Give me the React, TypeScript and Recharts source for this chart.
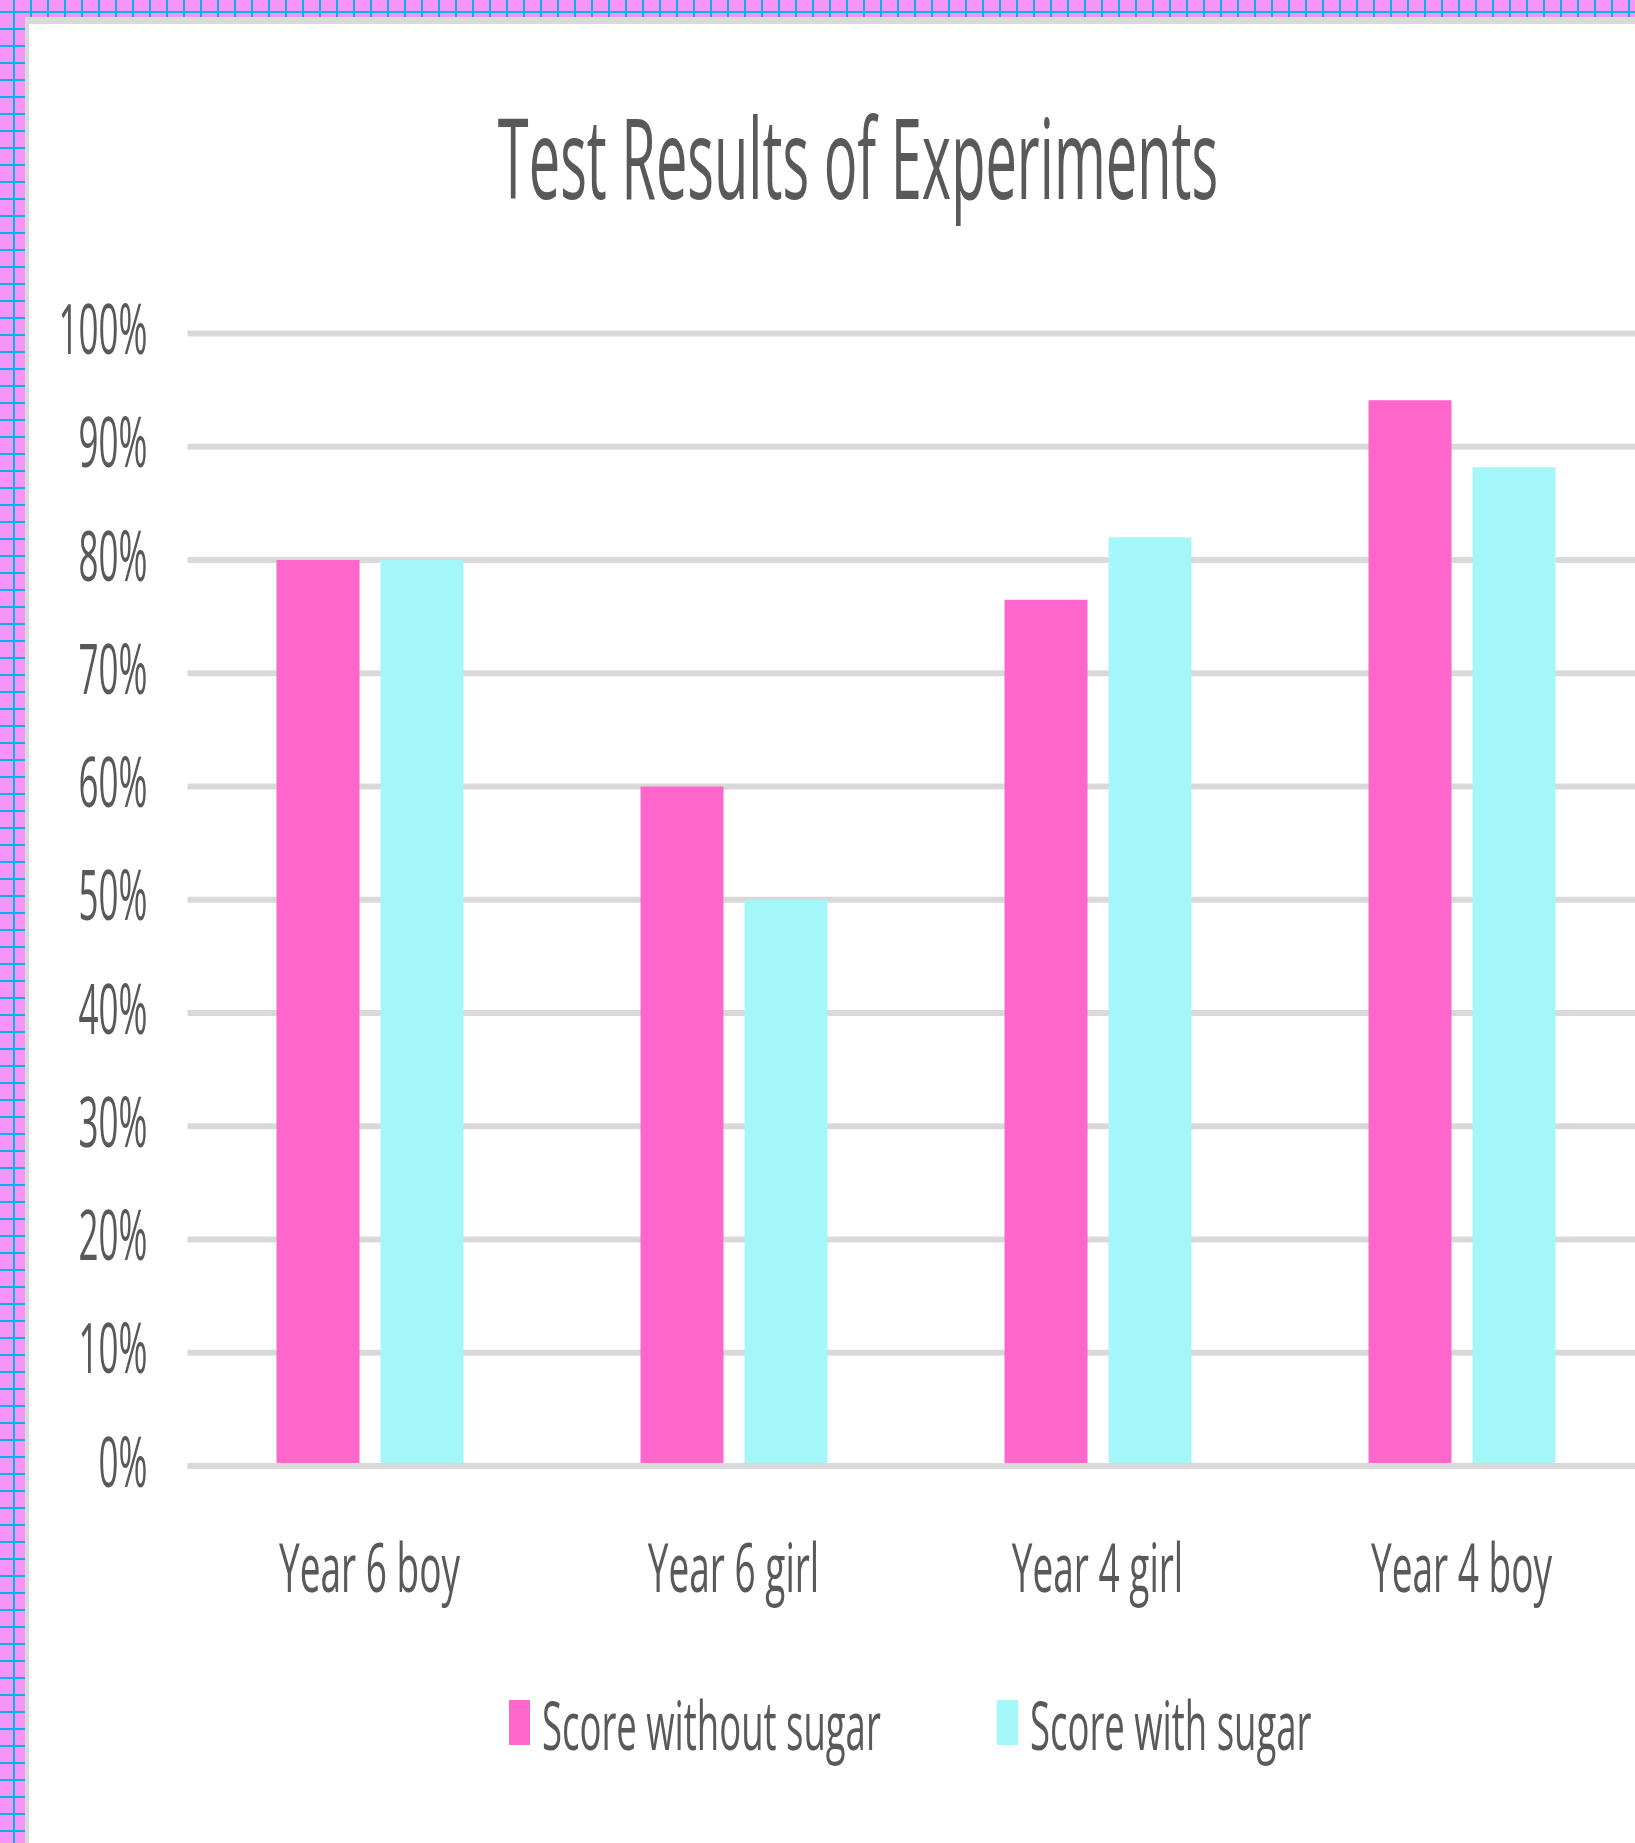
import React from 'react';
import { BarChart, Bar, XAxis, YAxis, CartesianGrid, Legend } from 'recharts';

const categories = ['Year 6 boy', 'Year 6 girl', 'Year 4 girl', 'Year 4 boy'];
const withoutSugar = [80, 60, 76.5, 94.1];
const withSugar = [80, 50, 82, 88.2];
const yTicks = [0, 10, 20, 30, 40, 50, 60, 70, 80, 90, 100];
const seriesNames = ['Score without sugar', 'Score with sugar'];

const data = categories.map((name, i) => ({
  name,
  without: withoutSugar[i],
  with: withSugar[i],
}));

const FONT = '"Open Sans", sans-serif';
const TEXT = '#595959';
const GRID = '#d9d9d9';
const PINK = '#ff66cc';
const CYAN = '#a3f7f9';

const YTick = (props: any) => {
  const { x, y, payload } = props;
  return (
    <g transform={`translate(${x - 40}, ${y + 20.5}) scale(1, 1.96)`}>
      <text x={0} y={0} textAnchor="end" fill={TEXT} fontFamily={FONT} fontSize={35}>
        {payload.value}%
      </text>
    </g>
  );
};

const XTick = (props: any) => {
  const { x, y, payload } = props;
  return (
    <g transform={`translate(${x}, ${y + 126}) scale(1, 1.85)`}>
      <text x={0} y={0} textAnchor="middle" fill={TEXT} fontFamily={FONT} fontSize={37}>
        {payload.value}
      </text>
    </g>
  );
};

const LegendContent = (props: any) => {
  const items = [...(props.payload || [])].sort(
    (a: any, b: any) => seriesNames.indexOf(a.value) - seriesNames.indexOf(b.value)
  );
  return (
    <svg width={1635} height={100} style={{ overflow: 'visible', display: 'block' }}>
      {items.map((item: any, i: number) => {
        const x0 = 509 + i * 488;
        return (
          <g key={i}>
            <rect x={x0} y={20} width={21} height={45} fill={item.color} />
            <g transform={`translate(${x0 + 33}, 70) scale(1, 1.85)`}>
              <text x={0} y={0} fill={TEXT} fontFamily={FONT} fontSize={36.5}>
                {item.value}
              </text>
            </g>
          </g>
        );
      })}
    </svg>
  );
};

export default function App() {
  return (
    <div
      style={{
        position: 'absolute',
        left: 0,
        top: 0,
        width: 1635,
        height: 1843,
        overflow: 'hidden',
        backgroundColor: '#f794f7',
        backgroundImage:
          'linear-gradient(to right, #00b4f0 2px, transparent 2px), linear-gradient(to bottom, #00b4f0 2px, transparent 2px)',
        backgroundSize: '17px 17px',
        backgroundPosition: '13px 11px',
      }}
    >
      <div
        style={{
          position: 'absolute',
          left: 25,
          top: 17,
          width: 1700,
          height: 1900,
          background: '#fff',
          borderLeft: `4px solid ${GRID}`,
          borderTop: `7px solid ${GRID}`,
        }}
      />
      <svg width={1635} height={300} style={{ position: 'absolute', left: 0, top: 0 }}>
        <g transform="translate(858, 199) scale(1, 2.0)">
          <text x={0} y={0} textAnchor="middle" fill={TEXT} fontFamily={FONT} fontSize={56}>
            Test Results of Experiments
          </text>
        </g>
      </svg>
      <div style={{ position: 'absolute', left: 0, top: 0 }}>
        <BarChart
          width={1700}
          height={1843}
          data={data}
          margin={{ top: 333.5, right: 56.5, bottom: 0, left: 0 }}
          barSize={83}
          barGap={21}
        >
          <CartesianGrid vertical={false} stroke={GRID} strokeWidth={6} />
          <XAxis
            dataKey="name"
            height={377}
            axisLine={{ stroke: GRID, strokeWidth: 6 }}
            tickLine={false}
            tickSize={0}
            tickMargin={0}
            tick={<XTick />}
            interval={0}
          />
          <YAxis
            width={187.5}
            domain={[0, 100]}
            ticks={yTicks}
            axisLine={false}
            tickLine={false}
            tickSize={0}
            tickMargin={0}
            tick={<YTick />}
          />
          <Bar dataKey="without" name={seriesNames[0]} fill={PINK} isAnimationActive={false} />
          <Bar dataKey="with" name={seriesNames[1]} fill={CYAN} isAnimationActive={false} />
          <Legend
            content={<LegendContent />}
            wrapperStyle={{ position: 'absolute', top: 1680, left: 0, bottom: 'auto', width: 1635, height: 0 }}
          />
        </BarChart>
      </div>
    </div>
  );
}
